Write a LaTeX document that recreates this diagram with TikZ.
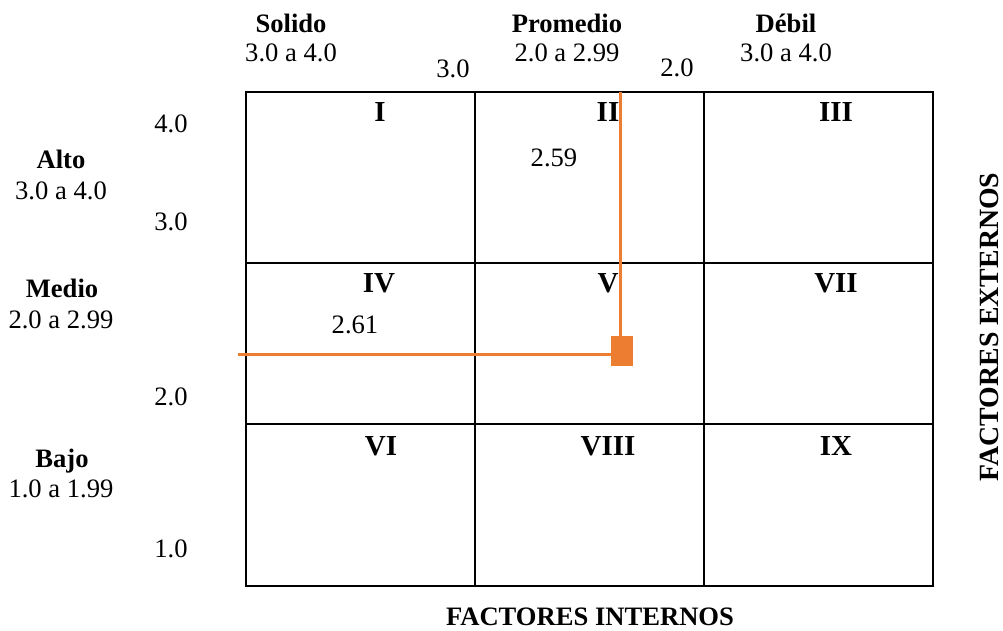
\documentclass[tikz,border=0pt]{standalone}
\usepackage{fontspec}
\setmainfont{Liberation Serif}
\definecolor{accent}{HTML}{ED7D31}
\begin{document}
\begin{tikzpicture}[x=1pt,y=-1pt,
  txt/.style={anchor=base,inner sep=0pt,font=\fontsize{26.6}{32}\selectfont},
  btxt/.style={anchor=base,inner sep=0pt,font=\fontsize{26.6}{32}\selectfont\bfseries},
  numeral/.style={anchor=base,inner sep=0pt,font=\fontsize{29}{34}\selectfont\bfseries},
  gridline/.style={draw=black,line width=2.6pt},
  orangeline/.style={draw=accent,line width=3pt},
  marker/.style={fill=accent,draw=none,minimum width=22pt,minimum height=30pt,inner sep=0pt}]
\useasboundingbox (0,0) rectangle (1003,631);
% grid
\draw[gridline] (246,92) rectangle (933,586);
\draw[gridline] (475,92) -- (475,586);
\draw[gridline] (704,92) -- (704,586);
\draw[gridline] (246,263) -- (933,263);
\draw[gridline] (246,424) -- (933,424);
% top labels
\node[btxt] (solido) at (291,33) {Solido};
\node[txt] (solidor) at (291,62) {3.0 a 4.0};
\node[txt] (t30) at (453,78) {3.0};
\node[btxt] (prom) at (567,33) {Promedio};
\node[txt] (promr) at (567,62) {2.0 a 2.99};
\node[txt] (t20) at (677,77) {2.0};
\node[btxt] (debil) at (786,33) {Débil};
\node[txt] (debilr) at (786,62) {3.0 a 4.0};
% left labels
\node[txt] (l40) at (171,133) {4.0};
\node[btxt] (alto) at (61,168) {Alto};
\node[txt] (altor) at (61,199) {3.0 a 4.0};
\node[txt] (l30) at (171,230) {3.0};
\node[btxt] (medio) at (62,297) {Medio};
\node[txt] (medior) at (61,328) {2.0 a 2.99};
\node[txt] (l20) at (171,405) {2.0};
\node[btxt] (bajo) at (62,467) {Bajo};
\node[txt] (bajor) at (61,497) {1.0 a 1.99};
\node[txt] (l10) at (171,557) {1.0};
% numerals
\node[numeral] (n1) at (380,122) {I};
\node[numeral] (n2) at (608,122) {II};
\node[numeral] (n3) at (836,122) {III};
\node[numeral] (n4) at (379,292) {IV};
\node[numeral] (n5) at (608,292) {V};
\node[numeral] (n7) at (836,292) {VII};
\node[numeral] (n6) at (381,455) {VI};
\node[numeral] (n8) at (608,455) {VIII};
\node[numeral] (n9) at (836,455) {IX};
% values
\node[txt] (v259) at (554,167) {2.59};
\node[txt] (v261) at (355,333) {2.61};
% axis titles
\node[btxt] (fint) at (590,625) {FACTORES INTERNOS};
\node[btxt,rotate=90,font=\fontsize{27.8}{32}\selectfont\bfseries] (fext) at (998,327) {FACTORES EXTERNOS};
% orange position marker
\node[marker] (sq) at (622,351) {};
\coordinate (vtop) at (620,92);
\coordinate (hleft) at (238,354);
\draw[orangeline] (vtop) -- (vtop |- sq.north);
\draw[orangeline] (hleft) -- (hleft -| sq.west);
\end{tikzpicture}
\end{document}
